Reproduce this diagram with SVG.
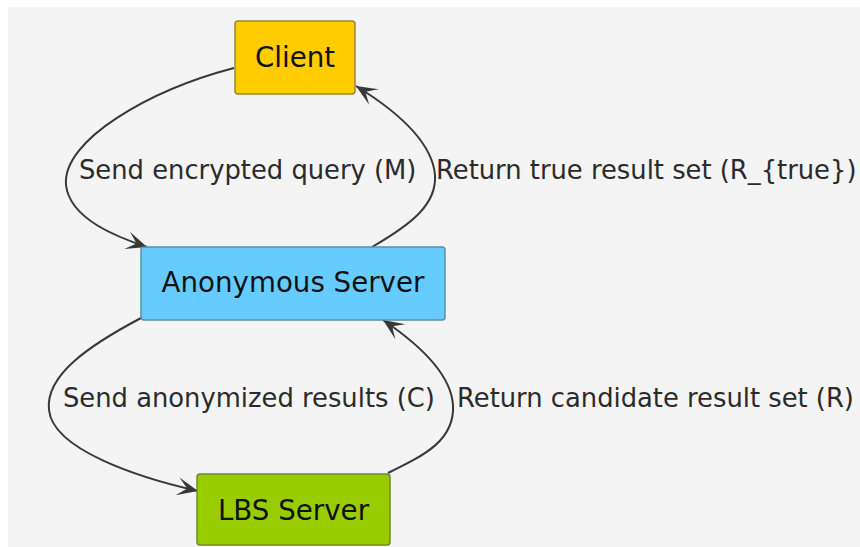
<svg xmlns="http://www.w3.org/2000/svg" width="860" height="547" viewBox="0 0 860 547">
<style>
.node-label{font-family:"DejaVu Sans","Liberation Sans",sans-serif;font-size:27.7px;fill:#111;text-anchor:middle}
.edge-label{font-family:"DejaVu Sans","Liberation Sans",sans-serif;font-size:25.8px;fill:#2b2b2b}
.edge{fill:none;stroke:#383838;stroke-width:2}
</style>
<defs>
<marker id="arrow" markerUnits="userSpaceOnUse" markerWidth="30" markerHeight="24" viewBox="-22 -12 30 24" refX="0" refY="0" orient="auto">
<path d="M0,0 L-21,-9 L-11,0 L-21,9 Z" fill="#383838"/>
</marker>
</defs>
<rect x="0" y="0" width="860" height="547" fill="#ffffff"/>
<rect x="8" y="7" width="852" height="540" fill="#f4f4f4"/>
<g id="connectors">
<path class="edge" marker-end="url(#arrow)" d="M234,68 C150,90 62,140 66,185 C70,220 120,238 147,247"/>
<path class="edge" marker-end="url(#arrow)" d="M372,247 C410,225 437,205 435,175 C432,140 395,110 356,86"/>
<path class="edge" marker-end="url(#arrow)" d="M141,318 C90,345 45,375 49,410 C53,450 140,478 198,491"/>
<path class="edge" marker-end="url(#arrow)" d="M388,473 C425,455 455,440 453,405 C451,375 420,345 383,320"/>
<text class="edge-label" x="79" y="179">Send encrypted query (M)</text>
<text class="edge-label" x="436" y="179">Return true result set (R_{true})</text>
<text class="edge-label" x="63" y="407">Send anonymized results (C)</text>
<text class="edge-label" x="457" y="407">Return candidate result set (R)</text>
</g>
<g id="client">
<rect x="235" y="21" width="120" height="73" rx="3" fill="#ffcc00" stroke="#9c8630" stroke-width="1.5"/>
<text class="node-label" x="295" y="67">Client</text>
</g>
<g id="anonymous-server">
<rect x="141" y="247" width="304" height="73" rx="3" fill="#66ccff" stroke="#5a8fa8" stroke-width="1.5"/>
<text class="node-label" x="293" y="292">Anonymous Server</text>
</g>
<g id="lbs-server">
<rect x="197" y="474" width="193" height="71" rx="3" fill="#99cc00" stroke="#6f8a2a" stroke-width="1.5"/>
<text class="node-label" x="293.5" y="520">LBS Server</text>
</g>
</svg>
